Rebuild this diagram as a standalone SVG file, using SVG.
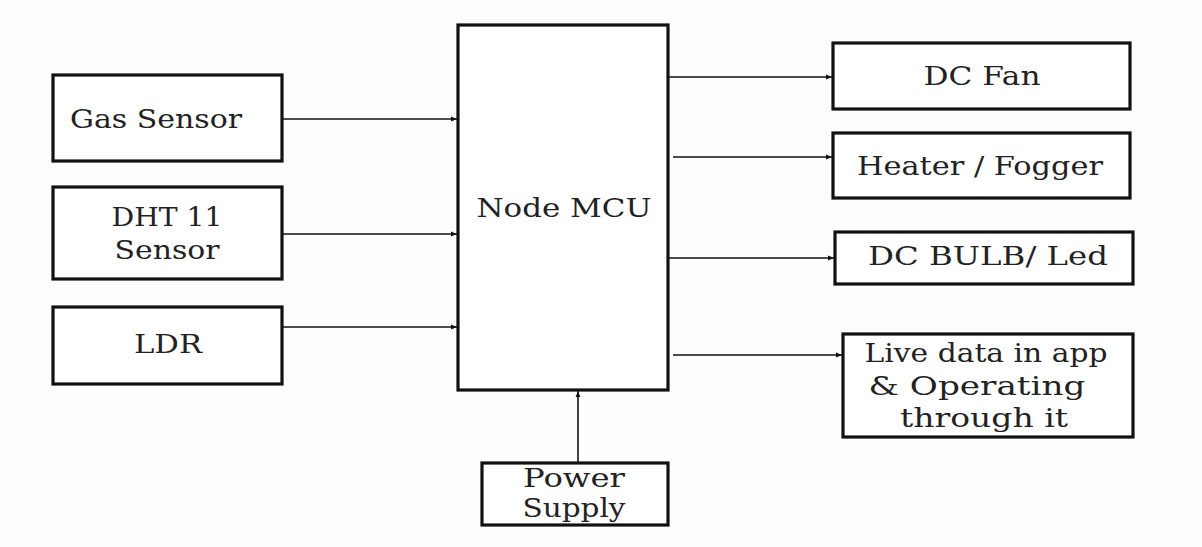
<svg xmlns="http://www.w3.org/2000/svg" width="1202" height="547" viewBox="0 0 1202 547">
<style>
.box{fill:#fff;stroke:#111;stroke-width:3.2}
.lbl{font-family:"DejaVu Serif","Liberation Serif",serif;font-size:26px;fill:#222;text-anchor:middle}
.con{stroke:#111;stroke-width:1.6;fill:none;marker-end:url(#ah)}
</style>
<defs>
<marker id="ah" viewBox="0 0 10 10" refX="10" refY="5" markerWidth="6" markerHeight="6" markerUnits="userSpaceOnUse" orient="auto">
<path d="M0,1 L10,5 L0,9 z" fill="#111"/>
</marker>
</defs>
<rect width="1202" height="547" fill="#fdfdfd"/>
<g id="connectors">
<line class="con" x1="282" y1="119" x2="457" y2="119"/>
<line class="con" x1="282" y1="234" x2="457" y2="234"/>
<line class="con" x1="282" y1="327" x2="457" y2="327"/>
<line class="con" x1="668" y1="77" x2="832" y2="77"/>
<line class="con" x1="673" y1="157" x2="832" y2="157"/>
<line class="con" x1="668" y1="258" x2="834" y2="258"/>
<line class="con" x1="673" y1="355" x2="842" y2="355"/>
<line class="con" x1="578" y1="463" x2="578" y2="391"/>
</g>
<g id="gas-sensor">
<rect class="box" x="53" y="75" width="229" height="86"/>
<text class="lbl" x="156" y="128" textLength="172" lengthAdjust="spacingAndGlyphs">Gas Sensor</text>
</g>
<g id="dht11">
<rect class="box" x="53" y="187" width="229" height="92"/>
<text class="lbl" x="167" y="226" textLength="111" lengthAdjust="spacingAndGlyphs">DHT 11</text>
<text class="lbl" x="167" y="259" textLength="105" lengthAdjust="spacingAndGlyphs">Sensor</text>
</g>
<g id="ldr">
<rect class="box" x="53" y="307" width="229" height="77"/>
<text class="lbl" x="168" y="353" textLength="68" lengthAdjust="spacingAndGlyphs">LDR</text>
</g>
<g id="node-mcu">
<rect class="box" x="458" y="25" width="210" height="365"/>
<text class="lbl" x="564" y="217" textLength="175" lengthAdjust="spacingAndGlyphs">Node MCU</text>
</g>
<g id="dc-fan">
<rect class="box" x="833" y="43" width="297" height="66"/>
<text class="lbl" x="982" y="85" textLength="117" lengthAdjust="spacingAndGlyphs">DC Fan</text>
</g>
<g id="heater-fogger">
<rect class="box" x="833" y="133" width="297" height="65"/>
<text class="lbl" x="980" y="175" textLength="246" lengthAdjust="spacingAndGlyphs">Heater / Fogger</text>
</g>
<g id="dc-bulb">
<rect class="box" x="835" y="232" width="298" height="52"/>
<text class="lbl" x="988" y="265" textLength="240" lengthAdjust="spacingAndGlyphs">DC BULB/ Led</text>
</g>
<g id="live-data">
<rect class="box" x="843" y="334" width="290" height="103"/>
<text class="lbl" x="986" y="362" textLength="243" lengthAdjust="spacingAndGlyphs">Live data in app</text>
<text class="lbl" x="977" y="395" textLength="217" lengthAdjust="spacingAndGlyphs">&amp; Operating</text>
<text class="lbl" x="984" y="427" textLength="168" lengthAdjust="spacingAndGlyphs">through it</text>
</g>
<g id="power-supply">
<rect class="box" x="482" y="463" width="186" height="62"/>
<text class="lbl" x="574" y="487" textLength="102" lengthAdjust="spacingAndGlyphs">Power</text>
<text class="lbl" x="574" y="517" textLength="103" lengthAdjust="spacingAndGlyphs">Supply</text>
</g>
</svg>
